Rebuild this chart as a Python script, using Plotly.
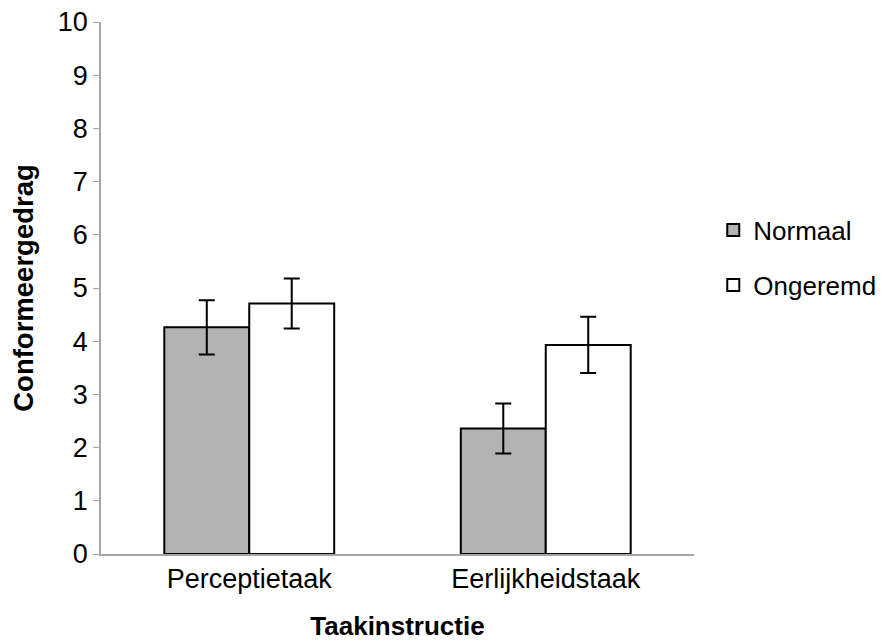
import plotly.graph_objects as go

categories = ["Perceptietaak", "Eerlijkheidstaak"]
normaal = [4.26, 2.36]
normaal_err = [0.51, 0.47]
ongeremd = [4.71, 3.93]
ongeremd_err = [0.47, 0.53]
y_ticks = list(range(0, 11))

font_family = "Liberation Sans, Arial, sans-serif"

fig = go.Figure()
fig.add_trace(go.Bar(
    name="Normaal", x=categories, y=normaal, legendgroup="a",
    marker=dict(color="#B3B3B3", line=dict(color="black", width=2)),
    error_y=dict(type="data", array=normaal_err, color="black", thickness=2, width=8),
))
fig.add_trace(go.Bar(
    name="Ongeremd", x=categories, y=ongeremd, legendgroup="b",
    marker=dict(color="white", line=dict(color="black", width=2)),
    error_y=dict(type="data", array=ongeremd_err, color="black", thickness=2, width=8),
))

fig.update_layout(
    width=885, height=641,
    margin=dict(l=93, r=176, t=14, b=95),
    paper_bgcolor="white", plot_bgcolor="white",
    barmode="group", bargap=0.427, bargroupgap=0,
    font=dict(family=font_family, size=27, color="black"),
    legend=dict(x=1.0325, y=0.557, xanchor="left", yanchor="middle",
                font=dict(size=26), tracegroupgap=18, itemwidth=30),
    showlegend=True,
)
fig.update_xaxes(
    range=[-0.5, 1.5],
    showline=True, linecolor="#A6A6A6", linewidth=1.5, ticks="",
    automargin=False, ticklabeloverflow="allow",
    title=dict(text="<b>Taakinstructie</b>", font=dict(size=26), standoff=24),
    tickfont=dict(size=27),
)
fig.update_yaxes(
    range=[0, 10], tickvals=y_ticks, showgrid=False, zeroline=False,
    showline=True, linecolor="#A6A6A6", linewidth=1.5,
    ticks="outside", ticklen=6, tickcolor="#A6A6A6",
    automargin=False, ticklabeloverflow="allow",
    title=dict(text="<b>Conformeergedrag</b>", font=dict(size=27.5), standoff=28),
    tickfont=dict(size=27),
)

fig.write_html("out.html")
